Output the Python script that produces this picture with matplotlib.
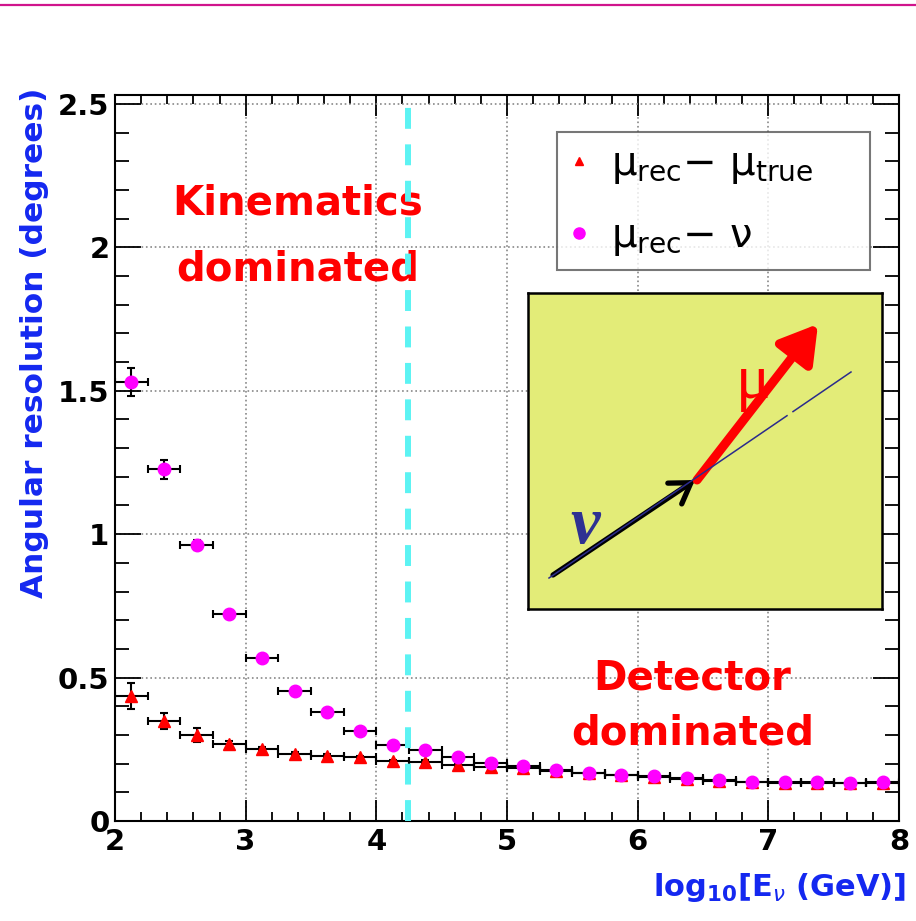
import matplotlib
matplotlib.use("Agg")
import matplotlib.pyplot as plt
from matplotlib.lines import Line2D
from matplotlib.patches import FancyArrowPatch
from matplotlib.ticker import MultipleLocator

# bin centres in log10(E/GeV)
log_e = [2.125, 2.375, 2.625, 2.875, 3.125, 3.375, 3.625, 3.875,
         4.125, 4.375, 4.625, 4.875, 5.125, 5.375, 5.625, 5.875,
         6.125, 6.375, 6.625, 6.875, 7.125, 7.375, 7.625, 7.875]
half_bin = [0.125] * 24

# mu_rec - mu_true (red triangles)
mu_true = [0.436, 0.348, 0.300, 0.268, 0.251, 0.233, 0.226, 0.222,
           0.209, 0.206, 0.195, 0.188, 0.184, 0.175, 0.166, 0.159,
           0.153, 0.147, 0.141, 0.136, 0.134, 0.134, 0.131, 0.133]
mu_true_err = [0.045, 0.027, 0.025, 0.010, 0.008, 0.006, 0.006, 0.005,
               0.005, 0.005, 0.005, 0.005, 0.004, 0.004, 0.004, 0.004,
               0.004, 0.004, 0.004, 0.004, 0.004, 0.004, 0.004, 0.004]

# mu_rec - nu (magenta circles)
mu_nu = [1.530, 1.226, 0.962, 0.721, 0.568, 0.453, 0.380, 0.314,
         0.265, 0.247, 0.223, 0.202, 0.190, 0.178, 0.167, 0.160,
         0.157, 0.150, 0.143, 0.137, 0.136, 0.136, 0.133, 0.136]
mu_nu_err = [0.050, 0.033, 0.018, 0.010, 0.008, 0.006, 0.006, 0.005,
             0.005, 0.005, 0.005, 0.005, 0.004, 0.004, 0.004, 0.004,
             0.004, 0.004, 0.004, 0.004, 0.004, 0.004, 0.004, 0.004]

transition = 4.245

plt.rcParams['mathtext.fontset'] = 'dejavusans'

fig = plt.figure(figsize=(9.16, 9.21), dpi=100)
W, H = 916, 921
ax = fig.add_axes([115 / W, 1 - 821 / H, 784 / W, 726 / H])
ax.set_xlim(2, 8)
ax.set_ylim(0, 2.531)

# top magenta rule of the slide
fig.add_artist(Line2D([0, 1], [1 - 5 / H] * 2, transform=fig.transFigure,
                      color='#d0148c', lw=1.6))

ax.grid(True, which='major', ls=':', color='#888888', lw=1.2, zorder=0)
ax.xaxis.set_major_locator(MultipleLocator(1))
ax.xaxis.set_minor_locator(MultipleLocator(0.2))
ax.yaxis.set_major_locator(MultipleLocator(0.5))
ax.yaxis.set_minor_locator(MultipleLocator(0.1))
ax.set_yticks([0, 0.5, 1, 1.5, 2, 2.5])
ax.set_yticklabels(['0', '0.5', '1', '1.5', '2', '2.5'])
ax.tick_params(which='both', direction='in', top=True, right=True, width=1.3, color='black')
ax.tick_params(axis='x', which='major', length=15, pad=5)
ax.tick_params(axis='x', which='minor', length=6.5)
ax.tick_params(axis='y', which='major', length=19, pad=4)
ax.tick_params(axis='y', which='minor', length=10)
for lab in ax.get_xticklabels() + ax.get_yticklabels():
    lab.set_fontsize(21)
    lab.set_fontweight('bold')
for sp in ax.spines.values():
    sp.set_linewidth(1.5)

ax.errorbar(log_e, mu_true, xerr=half_bin, yerr=mu_true_err, fmt='^', color='red',
            ms=8, mec='red', ecolor='black', elinewidth=1.5, capsize=3, capthick=1.5, zorder=3)
ax.errorbar(log_e, mu_nu, xerr=half_bin, yerr=mu_nu_err, fmt='o', color='magenta',
            ms=9, mec='magenta', ecolor='black', elinewidth=1.5, capsize=3, capthick=1.5, zorder=4)

ax.axvline(transition, color='#5cf3f3', lw=4.3, dashes=(3.5, 2.6), zorder=6)

# region labels
red_txt = dict(color='red', fontsize=29, fontweight='bold', ha='center', va='baseline', zorder=5)
ax.text(3.40, 2.113, 'Kinematics', **red_txt)
ax.text(3.40, 1.886, 'dominated', **red_txt)
ax.text(6.42, 0.460, 'Detector', **red_txt)
ax.text(6.42, 0.265, 'dominated', **red_txt)

# axis titles
blue = '#1428f0'
fig.text(35 / W, 1 - 88 / H, 'Angular resolution (degrees)', rotation=90, ha='center', va='top',
         color=blue, fontsize=22.5, fontweight='bold')
fig.text(906 / W, 1 - 896 / H, r'log$_{\mathbf{10}}$[E$_{\nu}$ (GeV)]', ha='right', va='baseline',
         color=blue, fontsize=22, fontweight='bold')

# legend
handles = [Line2D([], [], ls='none', marker='^', color='red', ms=6),
           Line2D([], [], ls='none', marker='o', color='magenta', ms=8)]
labels = [r'μ$_{\mathsf{rec}}$− μ$_{\mathsf{true}}$', r'μ$_{\mathsf{rec}}$− ν']
leg = ax.legend(handles, labels, loc='upper left', mode='expand',
                bbox_to_anchor=(557 / W, 1 - 132 / H, 313 / W, 0.0), bbox_transform=fig.transFigure,
                prop={'family': 'DejaVu Sans', 'size': 29}, frameon=True, fancybox=False,
                edgecolor='#555555', handlelength=0.5, handletextpad=0.55, borderpad=0.3,
                labelspacing=0.75, borderaxespad=0)
leg.get_frame().set_linewidth(1.5)

# inset sketch
ins = fig.add_axes([528 / W, 1 - 609 / H, 354 / W, 316 / H])
ins.set_facecolor('#e3ec78')
ins.set_xlim(0, 354)
ins.set_ylim(0, 316)
ins.set_xticks([])
ins.set_yticks([])
for sp in ins.spines.values():
    sp.set_linewidth(1.8)
ins.plot([21, 259], [31, 193.3], color='#2b2b8c', lw=1.1)
ins.plot([265, 323], [197.4, 237], color='#2b2b8c', lw=1.1)
ins.add_patch(FancyArrowPatch((25, 34), (167, 129), arrowstyle='->,head_length=0.7,head_width=0.45',
                              mutation_scale=20, lw=3.8, color='black', shrinkA=0, shrinkB=0))
ins.add_patch(FancyArrowPatch((169, 129), (290, 285), arrowstyle='-|>,head_length=1.0,head_width=0.6',
                              mutation_scale=22, lw=6.5, color='red', shrinkA=0, shrinkB=0))
ins.text(57, 82, 'ν', color='#2e3192', fontsize=48, family='Liberation Serif',
         fontweight='bold', fontstyle='italic', ha='center', va='center')
ins.text(225, 226, 'μ', color='red', fontsize=46, family='Liberation Serif',
         ha='center', va='center')

fig.savefig('out.png', dpi=100)
